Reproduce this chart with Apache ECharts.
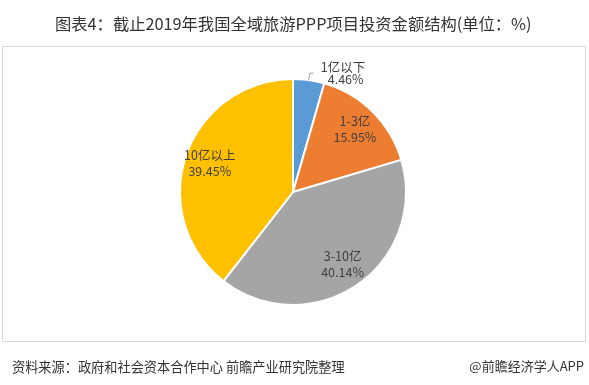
<!DOCTYPE html>
<html>
<head>
<meta charset="utf-8">
<script src="https://cdn.jsdelivr.net/npm/echarts@6/dist/echarts.min.js"></script>
<style>
html,body{margin:0;padding:0;background:#fff;}
#main{width:589px;height:385px;}
</style>
</head>
<body>
<div id="main"></div>
<script>
const categories = ['1亿以下', '1-3亿', '3-10亿', '10亿以上'];
const values = [4.46, 15.95, 40.14, 39.45];
const colors = ['#5B9BD5', '#ED7D31', '#A5A5A5', '#FFC000'];
const titleText = '图表4：截止2019年我国全域旅游PPP项目投资金额结构(单位：%)';
const sourceText = '资料来源：政府和社会资本合作中心 前瞻产业研究院整理';
const brandText = '@前瞻经济学人APP';

const FONT = '"Microsoft YaHei", "Noto Sans CJK SC", sans-serif';
const chart = echarts.init(document.getElementById('main'), null, {renderer: 'canvas'});

const pieData = categories.map((c, i) => ({
  name: c, value: values[i], itemStyle: {color: colors[i]}
}));
const labelData = categories.map((c, i) => {
  const d = {name: c, value: values[i]};
  if (i === 0) {
    d.label = {
      position: 'outside', align: 'left', lineHeight: 12, padding: [0, 0, 0, 2],
      formatter: p => '{a|' + p.name + '}\n{b|' + p.value.toFixed(2) + '%}',
      rich: {
        a: {fontFamily: FONT, fontSize: 12.5, color: '#404040', lineHeight: 12},
        b: {fontFamily: FONT, fontSize: 12.5, color: '#404040', lineHeight: 12, padding: [0, 0, 0, 7]}
      }
    };
    d.labelLine = {show: true, length: 7, length2: 4};
  }
  return d;
});

chart.setOption({
  animation: false,
  graphic: [
    {type: 'rect', shape: {x: 2.5, y: 46.5, width: 583, height: 295},
     style: {fill: 'none', stroke: '#D9D9D9', lineWidth: 1}, silent: true}
  ],
  title: [
    {text: titleText, left: 50, top: 11,
     textStyle: {fontFamily: FONT, fontSize: 16.3, fontWeight: 'normal', color: '#333333'}},
    {text: sourceText, left: 7, top: 355,
     textStyle: {fontFamily: FONT, fontSize: 13.2, fontWeight: 'normal', color: '#333333'}},
    {text: brandText, right: 0, top: 355,
     textStyle: {fontFamily: FONT, fontSize: 13, fontWeight: 'normal', color: '#333333'}}
  ],
  series: [
    {
      type: 'pie', center: [293, 192], radius: [0, 113],
      startAngle: 90, clockwise: true,
      label: {show: false}, labelLine: {show: false},
      itemStyle: {borderColor: '#ffffff', borderWidth: 2},
      data: pieData, silent: true
    },
    {
      type: 'pie', center: [293, 192], radius: [57, 113],
      startAngle: 90, clockwise: true, silent: true,
      itemStyle: {color: 'rgba(0,0,0,0)'},
      label: {
        show: true, position: 'inside',
        formatter: p => p.name + '\n' + p.value.toFixed(2) + '%',
        fontFamily: FONT, fontSize: 12.5, color: '#404040', lineHeight: 16
      },
      labelLine: {show: false, lineStyle: {color: '#A6A6A6', width: 1}},
      data: labelData, z: 3
    }
  ]
});
</script>
</body>
</html>
